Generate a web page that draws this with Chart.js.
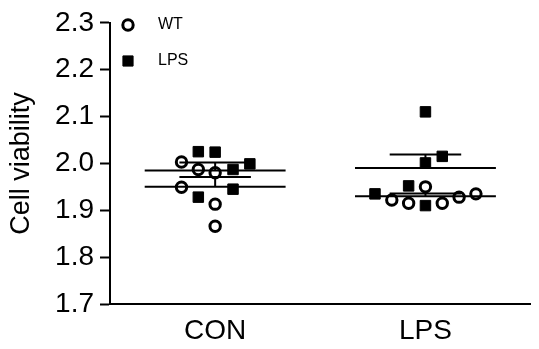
<!DOCTYPE html>
<html><head><meta charset="utf-8">
<script src="https://cdn.jsdelivr.net/npm/chart.js@4.4.1/dist/chart.umd.min.js"></script>
<style>html,body{margin:0;padding:0;background:#fff}</style>
</head><body>
<canvas id="c" width="539" height="349"></canvas>
<script>
const categories = ['CON', 'LPS'];
const seriesNames = ['WT', 'LPS'];
const yTickStep = 0.1;
const yMin = 1.7, yMax = 2.3;
// WT (open circles): category index, horizontal jitter, value
const wtGroup  = [0, 0, 0, 0, 0, 0, 1, 1, 1, 1, 1, 1];
const wtJitter = [-0.16, -0.08, 0, -0.16, 0, 0, 0, -0.16, -0.08, 0.08, 0.16, 0.24];
const wtValues = [2.003, 1.987, 1.980, 1.949, 1.913, 1.866, 1.950, 1.922, 1.915, 1.915, 1.928, 1.935];
// LPS (filled squares)
const lpsGroup  = [0, 0, 0, 0, 0, 0, 1, 1, 1, 1, 1, 1];
const lpsJitter = [-0.08, 0, 0.165, 0.085, 0.085, -0.08, 0, 0.08, 0, -0.08, -0.24, 0];
const lpsValues = [2.025, 2.024, 1.999, 1.987, 1.945, 1.928, 2.110, 2.015, 2.001, 1.952, 1.935, 1.910];
// mean and SEM per category (error bars drawn above only)
const wtMean  = [1.950, 1.930];
const wtSem   = [0.021, 0.006];
const lpsMean = [1.985, 1.990];
const lpsSem  = [0.017, 0.029];

const MEAN_HALF = 0.335, CAP_HALF = 0.17;
const catX = i => i + 0.5;

function pts(groups, jit, vals) {
  return vals.map((v, i) => ({ x: catX(groups[i]) + jit[i], y: v }));
}
function seg(x1, y1, x2, y2) {
  return { type: 'line', data: [{ x: x1, y: y1 }, { x: x2, y: y2 }], borderColor: '#000', borderWidth: 2,
           pointRadius: 0, showLine: true, fill: false, clip: false };
}
const auxSets = [];
[[wtMean, wtSem], [lpsMean, lpsSem]].forEach(([m, s]) => {
  categories.forEach((c, i) => {
    const cx = catX(i);
    auxSets.push(seg(cx - MEAN_HALF, m[i], cx + MEAN_HALF, m[i]));
    auxSets.push(seg(cx - CAP_HALF, m[i] + s[i], cx + CAP_HALF, m[i] + s[i]));
    auxSets.push(seg(cx, m[i], cx, m[i] + s[i]));
  });
});

const wtSet = { label: seriesNames[0], data: pts(wtGroup, wtJitter, wtValues), pointStyle: 'circle',
  pointRadius: 5.2, pointBorderWidth: 3, pointBorderColor: '#000', pointBackgroundColor: '#fff',
  borderColor: '#000', backgroundColor: '#fff', borderWidth: 3, clip: false };
const lpsSet = { label: seriesNames[1], data: pts(lpsGroup, lpsJitter, lpsValues), pointStyle: 'rect',
  pointRadius: 7.4, pointBorderWidth: 1, pointBorderColor: '#000', pointBackgroundColor: '#000',
  borderColor: '#000', backgroundColor: '#000', borderWidth: 1, clip: false };

const FONT = "'Liberation Sans', Arial, sans-serif";

const legendPlugin = {
  id: 'markerLegend',
  afterDraw(chart) {
    const ctx = chart.ctx;
    const rows = [
      { ds: wtSet, x: 128, y: 25, r: 5.2, bw: 3 },
      { ds: lpsSet, x: 128, y: 61, r: 7.2, bw: 1 }
    ];
    ctx.save();
    rows.forEach(row => {
      ctx.fillStyle = row.ds.pointBackgroundColor;
      ctx.strokeStyle = row.ds.pointBorderColor;
      ctx.lineWidth = row.bw;
      Chart.helpers.drawPoint(ctx, { pointStyle: row.ds.pointStyle, radius: row.r, rotation: 0, borderWidth: row.bw }, row.x, row.y);
      ctx.fillStyle = '#000';
      ctx.font = '16px ' + FONT;
      ctx.textBaseline = 'middle';
      ctx.textAlign = 'left';
      ctx.fillText(row.ds.label, 158, row.y);
    });
    ctx.restore();
  }
};

new Chart(document.getElementById('c'), {
  type: 'scatter',
  data: { datasets: [...auxSets, wtSet, lpsSet] },
  options: {
    responsive: false,
    animation: false,
    layout: { padding: { top: 17, right: 2, left: 0, bottom: 0 } },
    plugins: { legend: { display: false }, tooltip: { enabled: false } },
    scales: {
      x: {
        type: 'linear', min: 0, max: 2,
        afterBuildTicks: s => { s.ticks = categories.map((c, i) => ({ value: catX(i) })); },
        afterFit: s => { s.height = 45; },
        grid: { display: false, drawTicks: false },
        border: { display: true, color: '#000', width: 2 },
        ticks: { color: '#000', padding: 10, font: { family: FONT, size: 28 },
                 callback: v => categories[Math.round(v - 0.5)] }
      },
      y: {
        min: yMin, max: yMax,
        afterFit: s => { s.width = 110; },
        grid: { drawOnChartArea: false, drawTicks: true, tickLength: 10, tickColor: '#000', tickWidth: 2 },
        border: { display: true, color: '#000', width: 2 },
        ticks: { stepSize: yTickStep, color: '#000', padding: 6, font: { family: FONT, size: 28 },
                 callback: v => Number(v).toFixed(1) },
        title: { display: true, text: 'Cell viability', color: '#000', padding: { top: 5, bottom: 0 },
                 font: { family: FONT, size: 27 } }
      }
    }
  },
  plugins: [legendPlugin]
});
</script>
</body></html>
